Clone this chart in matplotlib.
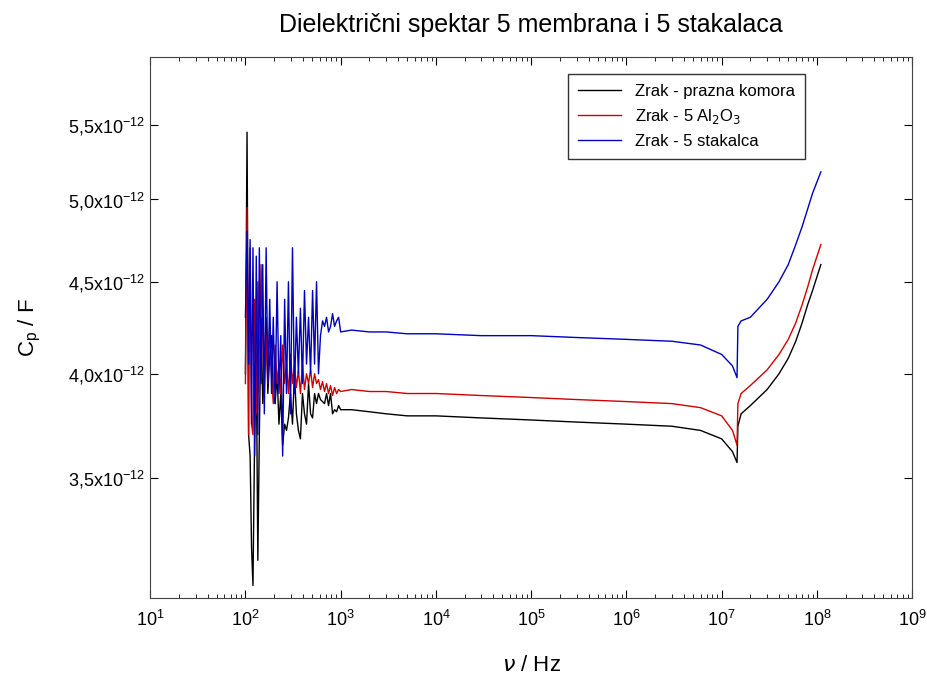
import matplotlib
matplotlib.use("Agg")
import matplotlib.pyplot as plt
from matplotlib.ticker import FixedLocator, NullFormatter, LogLocator

# oscillating low-frequency region (Hz) and values (pF)
f_low = [100, 104, 108, 112, 116, 120, 125, 130, 135, 140, 146, 152, 158, 165, 172, 180, 188, 196, 205, 215,
         225, 235, 246, 258, 270, 283, 297, 312, 327, 343, 360, 378, 397, 417, 438, 460, 483, 507, 532, 558,
         585, 614, 645, 677, 711, 746, 783, 822, 863, 906, 951, 1000]
black_low = [4.0, 5.45, 3.7, 3.6, 3.2, 3.05, 3.7, 4.1, 3.15, 3.7, 4.3, 3.85, 4.0, 4.3, 3.9, 4.1, 4.2, 3.9, 3.85, 4.0,
             3.75, 3.9, 3.65, 3.75, 3.72, 3.78, 3.9, 3.75, 4.0, 3.8, 3.72, 3.68, 3.9, 3.8, 3.75, 3.95, 3.8, 3.78, 3.9, 3.85,
             3.9, 3.87, 3.86, 3.85, 3.9, 3.84, 3.9, 3.8, 3.82, 3.81, 3.84, 3.82]
red_low = [3.95, 4.95, 3.7, 4.7, 3.75, 3.7, 4.4, 3.8, 4.5, 3.9, 4.6, 4.2, 3.9, 4.2, 3.95, 4.25, 4.0, 3.85, 4.15, 3.95,
           4.05, 3.9, 4.15, 3.95, 4.05, 3.9, 4.1, 3.95, 4.05, 3.93, 4.02, 3.9, 4.05, 3.92, 4.0, 3.95, 4.02, 3.93, 4.0, 3.95,
           3.97, 3.92, 3.96, 3.91, 3.95, 3.9, 3.94, 3.89, 3.93, 3.9, 3.92, 3.91]
blue_low = [4.3, 4.8, 4.05, 4.75, 3.75, 4.7, 3.6, 4.65, 3.7, 4.7, 3.95, 4.6, 3.8, 4.7, 3.95, 4.4, 3.9, 4.3, 3.85, 4.5,
            3.9, 4.2, 3.6, 4.4, 3.9, 4.5, 3.8, 4.7, 3.9, 4.3, 4.0, 4.35, 3.95, 4.45, 4.05, 4.3, 4.0, 4.45, 4.05, 4.5,
            4.0, 4.2, 4.28, 4.25, 4.3, 4.22, 4.25, 4.32, 4.25, 4.28, 4.3, 4.22]

# smooth high-frequency region
f_high = [1.3e3, 2e3, 3e3, 5e3, 1e4, 3e4, 1e5, 3e5, 1e6, 3e6, 6e6, 1e7, 1.3e7, 1.45e7, 1.48e7, 1.6e7, 2e7, 3e7, 4e7, 5e7, 6e7, 7e7, 8e7, 9e7, 1.1e8]
black_high = [3.82, 3.81, 3.8, 3.79, 3.79, 3.78, 3.77, 3.76, 3.75, 3.74, 3.72, 3.68, 3.62, 3.57, 3.74, 3.8, 3.84, 3.92, 4.0, 4.08, 4.17, 4.27, 4.37, 4.45, 4.6]
red_high = [3.92, 3.91, 3.91, 3.9, 3.9, 3.89, 3.88, 3.87, 3.86, 3.85, 3.83, 3.79, 3.72, 3.65, 3.85, 3.9, 3.94, 4.02, 4.1, 4.18, 4.27, 4.37, 4.47, 4.57, 4.72]
blue_high = [4.23, 4.22, 4.22, 4.21, 4.21, 4.2, 4.2, 4.19, 4.18, 4.17, 4.15, 4.1, 4.04, 3.98, 4.25, 4.28, 4.3, 4.4, 4.5, 4.6, 4.72, 4.83, 4.94, 5.04, 5.18]

labels = ["Zrak - prazna komora", "Zrak - 5 Al$_2$O$_3$", "Zrak - 5 stakalca"]
colors = ["black", "#d00000", "#0000c0"]
yticks = [3.5, 4.0, 4.5, 5.0, 5.5]
ytick_labels = ["3,5x10$^{\\mathregular{-12}}$", "4,0x10$^{\\mathregular{-12}}$", "4,5x10$^{\\mathregular{-12}}$",
                "5,0x10$^{\\mathregular{-12}}$", "5,5x10$^{\\mathregular{-12}}$"]

plt.rcParams['font.family'] = ['Liberation Sans', 'DejaVu Sans']
fig = plt.figure(figsize=(9.27, 6.8), dpi=100)
ax = fig.add_axes([0.162, 0.12, 0.822, 0.796])

f_all = f_low + f_high
for vals_l, vals_h, lab, c in zip([black_low, red_low, blue_low], [black_high, red_high, blue_high], labels, colors):
    v = [x * 1e-12 for x in vals_l + vals_h]
    ax.plot(f_all, v, color=c, lw=1.0, label=lab)

ax.set_xscale('log')
ax.set_yscale('log')
ax.set_xlim(10, 1e9)
ax.set_ylim(3.0e-12, 6.0e-12)
ax.yaxis.set_major_locator(FixedLocator([t * 1e-12 for t in yticks]))
ax.yaxis.set_minor_locator(FixedLocator([]))
ax.yaxis.set_minor_formatter(NullFormatter())
ax.set_yticklabels(ytick_labels, fontsize=13)
ax.xaxis.set_major_locator(LogLocator(base=10, numticks=20))
ax.xaxis.set_minor_locator(LogLocator(base=10, subs=range(2, 10), numticks=100))
ax.tick_params(axis='x', labelsize=13, direction='in', which='both', top=True, pad=8)
ax.tick_params(axis='y', direction='in', right=True)
ax.tick_params(which='major', length=6)
ax.tick_params(which='minor', length=3)
for s in ax.spines.values():
    s.set_color('#444444')

ax.set_xlabel(r"$\nu$ / Hz", fontsize=16, labelpad=18)
ax.set_ylabel(r"C$_\mathregular{p}$ / F", fontsize=16, labelpad=18)
ax.set_title("Dielektrični spektar 5 membrana i 5 stakalaca", fontsize=18, pad=18)
leg = ax.legend(loc='upper right', bbox_to_anchor=(0.87, 0.985), fontsize=12, frameon=True, fancybox=False,
                edgecolor='black', handlelength=2.6, borderpad=0.6)
leg.get_frame().set_linewidth(1.0)
fig.savefig("out.png", dpi=100)
